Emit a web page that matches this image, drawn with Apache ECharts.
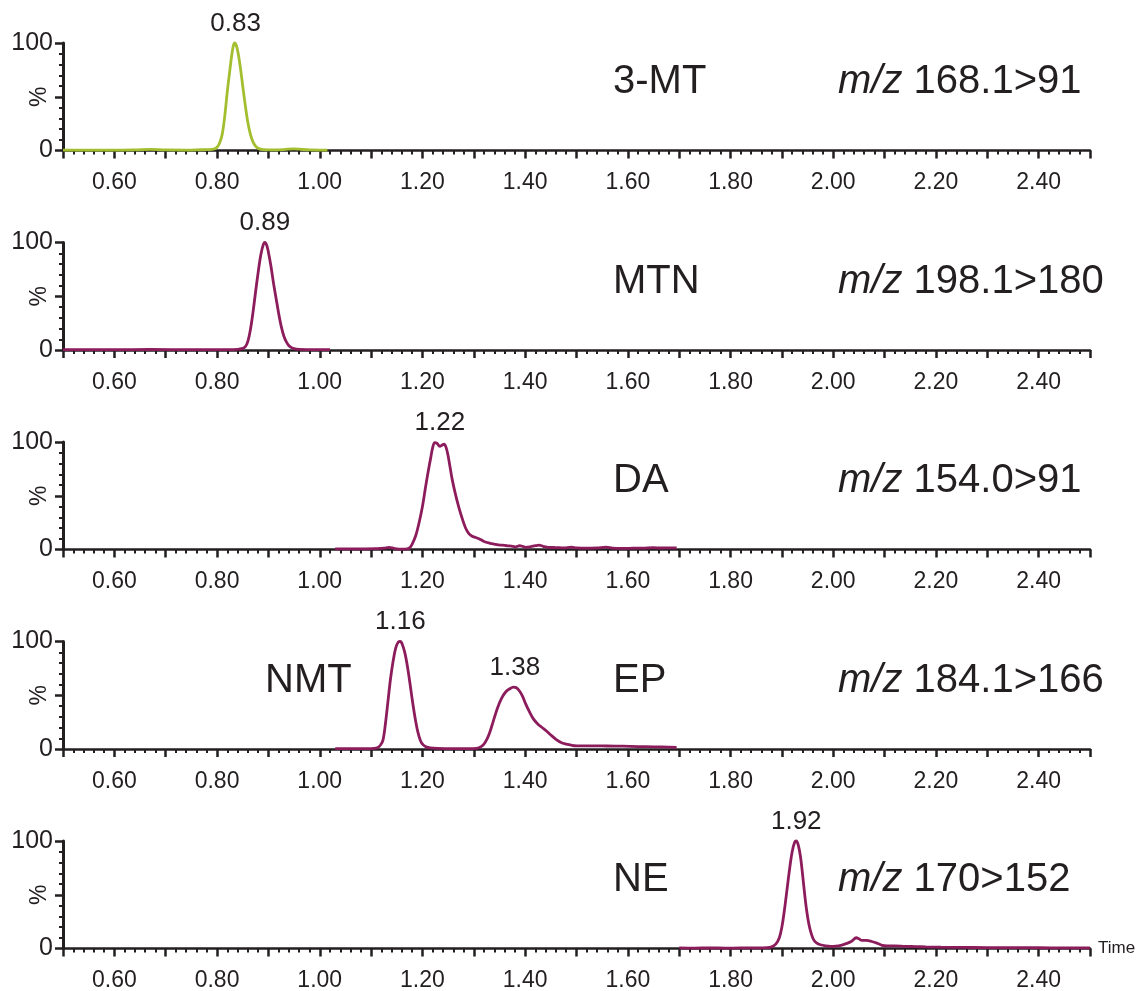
<!DOCTYPE html>
<html>
<head>
<meta charset="utf-8">
<script src="https://cdn.jsdelivr.net/npm/echarts@6/dist/echarts.min.js"></script>
<style>
html,body{margin:0;padding:0;background:#fff;}
#chart{width:1144px;height:991px;}
</style>
</head>
<body>
<div id="chart"></div>
<script>
// ---------------- DATA ----------------
const xTickLabels = ['0.60','0.80','1.00','1.20','1.40','1.60','1.80','2.00','2.20','2.40'];

const compounds = ['3-MT', 'MTN', 'DA', 'EP', 'NE'];
const extraCompound = 'NMT';
const transitions = ['168.1>91', '198.1>180', '154.0>91', '184.1>166', '170>152'];

// chromatogram traces: [time (min), relative intensity %]
const trace3MT = [
  [0.50,0.4],[0.55,0.3],[0.60,0.4],[0.64,0.5],[0.67,1.0],[0.70,0.5],[0.74,0.4],[0.77,0.7],[0.785,0.8],
  [0.795,1.5],[0.80,3],[0.805,7],[0.81,15],[0.815,32],[0.82,55],[0.825,75],[0.83,93],[0.834,100],
  [0.838,97],[0.842,88],[0.846,75],[0.85,60],[0.855,42],[0.86,26],[0.865,15],[0.87,8],[0.875,4],
  [0.88,2],[0.89,0.8],[0.91,0.5],[0.93,0.8],[0.95,1.6],[0.96,1.2],[0.98,0.5],[1.00,0.4],[1.015,0.4]
];
const traceMTN = [
  [0.50,0.3],[0.60,0.3],[0.67,0.5],[0.75,0.3],[0.82,0.3],[0.84,0.6],[0.85,1.5],[0.855,3],[0.86,8],
  [0.865,19],[0.87,35],[0.875,54],[0.88,72],[0.885,88],[0.89,98],[0.893,100],[0.897,97],[0.90,91],
  [0.905,78],[0.91,62],[0.915,48],[0.92,34],[0.925,22],[0.93,13],[0.935,7.5],[0.94,4],[0.945,2.2],
  [0.95,1.2],[0.96,0.6],[0.98,0.4],[1.00,0.3],[1.02,0.3]
];
const traceDA = [
  [1.03,0.5],[1.06,0.5],[1.09,0.6],[1.11,0.8],[1.125,1.2],[1.135,2],[1.145,1],[1.16,0.3],[1.17,0.5],
  [1.175,1.5],[1.18,5],[1.187,13],[1.193,24],[1.20,40],[1.206,58],[1.211,72],[1.216,85],[1.22,95],
  [1.224,99.5],[1.228,99],[1.234,96],[1.238,97],[1.242,98],[1.246,95],[1.25,87],[1.254,76],[1.258,65],
  [1.264,52],[1.271,39],[1.278,28],[1.284,20],[1.29,15],[1.296,12.5],[1.302,11.5],[1.31,10],[1.318,8],
  [1.326,6.5],[1.335,5.5],[1.345,4.5],[1.355,4],[1.365,3.5],[1.376,3],[1.382,2.5],[1.389,3.5],[1.395,3],
  [1.401,2],[1.41,2.5],[1.42,3.5],[1.427,4],[1.435,3],[1.445,2],[1.46,1.8],[1.475,1.5],[1.49,2.2],
  [1.50,1.5],[1.52,1.2],[1.54,1.5],[1.558,2.2],[1.57,1.3],[1.59,1.0],[1.61,1.2],[1.63,1.3],[1.649,1.8],
  [1.665,1.4],[1.68,1.5],[1.695,1.5]
];
const traceEP = [
  [1.03,0.3],[1.06,0.3],[1.09,0.4],[1.105,0.6],[1.112,1.2],[1.118,3.5],[1.123,8],[1.128,24],[1.133,45],
  [1.138,66],[1.143,82],[1.148,94],[1.153,99.5],[1.157,100],[1.161,97],[1.166,89],[1.171,76],[1.176,60],
  [1.181,43],[1.186,28],[1.191,16],[1.196,8],[1.201,4],[1.207,2],[1.215,1],[1.23,0.5],[1.26,0.3],
  [1.29,0.3],[1.305,0.6],[1.315,2.5],[1.322,6],[1.33,14],[1.338,26],[1.346,38],[1.354,47],[1.362,53],
  [1.37,56],[1.377,57.5],[1.383,57],[1.389,54],[1.395,49],[1.401,42],[1.408,35],[1.416,28],[1.425,23],
  [1.433,20],[1.441,17],[1.45,13],[1.46,9],[1.47,6],[1.48,4.5],[1.49,3.5],[1.50,3],[1.53,3],[1.56,2.8],
  [1.59,2.6],[1.62,2.3],[1.65,2],[1.68,1.8],[1.695,1.6]
];
const traceNE = [
  [1.70,0.5],[1.73,0.4],[1.76,0.5],[1.79,0.4],[1.82,0.5],[1.85,0.6],[1.87,0.8],[1.88,1.5],[1.888,4],
  [1.895,10],[1.90,20],[1.905,36],[1.91,55],[1.915,74],[1.92,90],[1.925,99],[1.928,100],[1.932,96],
  [1.936,86],[1.94,70],[1.944,52],[1.948,36],[1.952,24],[1.957,14],[1.962,8],[1.968,5],[1.975,3.5],
  [1.985,2.5],[1.995,2],[2.005,2.2],[2.015,3],[2.025,4.5],[2.035,6.5],[2.045,10],[2.05,9],[2.056,7.5],
  [2.065,7.5],[2.075,6.5],[2.085,5],[2.095,3],[2.105,2.5],[2.12,2.5],[2.14,2],[2.16,1.8],[2.18,1.5],
  [2.21,1.2],[2.25,1],[2.30,0.9],[2.35,0.8],[2.40,0.7],[2.45,0.6],[2.50,0.6]
];

// peak annotations: [time, intensity, label]
const peaks3MT = [[0.836, 100, '0.83']];
const peaksMTN = [[0.893, 100, '0.89']];
const peaksDA  = [[1.234, 100, '1.22']];
const peaksEP  = [[1.157, 100, '1.16'], [1.38, 57.5, '1.38']];
const peaksNE  = [[1.928, 100, '1.92']];

// ---------------- CHART ----------------
const traces = [trace3MT, traceMTN, traceDA, traceEP, traceNE];
const peaks = [peaks3MT, peaksMTN, peaksDA, peaksEP, peaksNE];
const colors = ['#a3bf2f', '#8c1c5b', '#8c1c5b', '#8c1c5b', '#8c1c5b'];
const FONT = 'Liberation Sans, Arial, Helvetica, sans-serif';
const TXT = '#231f20';
const tops = [43, 242.5, 442, 641.5, 841];
const gh = 107.5;
const left = 63, right = 54;

const grids = [], xAxes = [], yAxes = [], series = [], graphics = [];
for (let i = 0; i < 5; i++) {
  grids.push({left: left, right: right, top: tops[i], height: gh, containLabel: false, outerBoundsMode: 'none'});
  xAxes.push({
    type: 'value', gridIndex: i, min: 0.5, max: 2.5, interval: 0.1,
    name: i === 4 ? 'Time' : '', nameLocation: 'end', nameGap: 8, nameMoveOverlap: false,
    nameTextStyle: {fontFamily: FONT, fontSize: 17, color: TXT, verticalAlign: 'middle'},
    axisLine: {show: true, onZero: false, lineStyle: {color: TXT, width: 2.5}},
    axisTick: {show: true, inside: false, length: 8, lineStyle: {color: TXT, width: 2.5}},
    minorTick: {show: true, splitNumber: 5, length: 4, lineStyle: {color: TXT, width: 2}},
    splitLine: {show: false},
    axisLabel: {
      show: true, margin: 21, fontFamily: FONT, fontSize: 23, color: TXT,
      hideOverlap: false,
      formatter: function (v) {
        const s = v.toFixed(2);
        return xTickLabels.indexOf(s) >= 0 ? s : '';
      }
    }
  });
  yAxes.push({
    type: 'value', gridIndex: i, min: 0, max: 100, interval: 50,
    name: '%', nameLocation: 'middle', nameRotate: 90, nameGap: 12, nameMoveOverlap: false,
    nameTextStyle: {fontFamily: FONT, fontSize: 23, color: TXT},
    axisLine: {show: true, lineStyle: {color: TXT, width: 3}},
    axisTick: {show: true, inside: false, length: 8, lineStyle: {color: TXT, width: 2.5}},
    minorTick: {show: true, splitNumber: 5, length: 4, lineStyle: {color: TXT, width: 2}},
    splitLine: {show: false},
    axisLabel: {
      show: true, margin: 10, fontFamily: FONT, fontSize: 25, color: TXT,
      formatter: function (v) { return v === 50 ? '' : String(v); }
    }
  });
  series.push({
    type: 'line', xAxisIndex: i, yAxisIndex: i, data: traces[i],
    showSymbol: false, smooth: 0.35, clip: false,
    lineStyle: {color: colors[i], width: 2.8},
    itemStyle: {color: colors[i]},
    z: 3,
    markPoint: {
      symbol: 'rect', symbolSize: 1, itemStyle: {color: 'rgba(0,0,0,0)'},
      label: {show: true, position: 'top', distance: 6, fontFamily: FONT, fontSize: 26, color: TXT,
        formatter: function (p) { return p.name; }},
      data: peaks[i].map(function (p) { return {coord: [p[0], p[1]], name: p[2]}; })
    }
  });
  const cy = tops[i] + 39;
  graphics.push({
    type: 'text', x: 613, y: cy,
    style: {text: compounds[i], fontFamily: FONT, fontSize: 40, fill: TXT, verticalAlign: 'middle', align: 'left'}
  });
  graphics.push({
    type: 'text', x: 838, y: cy,
    style: {
      text: '{i|m/z} ' + transitions[i], fontFamily: FONT, fontSize: 40, fill: TXT,
      verticalAlign: 'middle', align: 'left',
      rich: {i: {fontStyle: 'italic', fontFamily: FONT, fontSize: 40, fill: TXT}}
    }
  });
}
graphics.push({
  type: 'text', x: 265, y: tops[3] + 39,
  style: {text: extraCompound, fontFamily: FONT, fontSize: 40, fill: TXT, verticalAlign: 'middle', align: 'left'}
});

const chart = echarts.init(document.getElementById('chart'), null, {renderer: 'canvas'});
chart.setOption({
  backgroundColor: '#ffffff',
  animation: false,
  grid: grids, xAxis: xAxes, yAxis: yAxes, series: series,
  graphic: graphics
});
</script>
</body>
</html>
